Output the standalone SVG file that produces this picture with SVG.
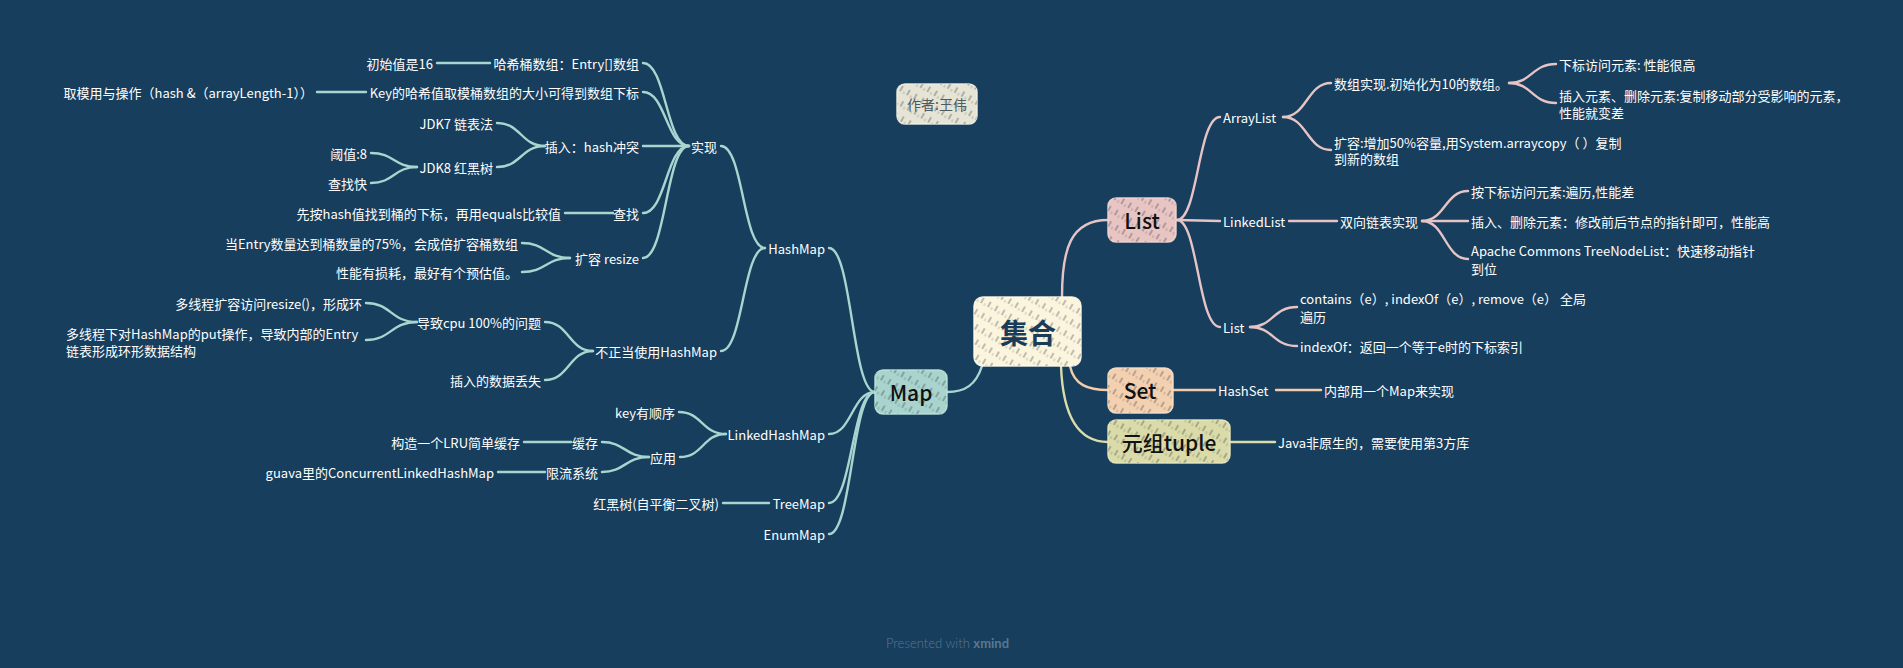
<svg xmlns="http://www.w3.org/2000/svg" width="1903" height="668" viewBox="0 0 1903 668">
<defs>
<pattern id="hatch" patternUnits="userSpaceOnUse" width="8" height="13" patternTransform="rotate(30)">
<line x1="1" y1="0" x2="1" y2="13" stroke="#15222e" stroke-opacity="0.6" stroke-width="0.9" stroke-dasharray="6 7"/>
<line x1="5" y1="4" x2="5" y2="13" stroke="#15222e" stroke-opacity="0.35" stroke-width="0.7" stroke-dasharray="3 10"/>
</pattern>
<style>
.t{font-family:"Noto Sans CJK SC","Noto Sans",sans-serif;font-size:13px;fill:#ffffff;dominant-baseline:central}
.e{text-anchor:end}
.n{font-family:"Noto Sans CJK SC","Noto Sans",sans-serif;font-size:21px;font-weight:500;fill:#111;text-anchor:middle;dominant-baseline:central}
.c{fill:none;stroke-width:2.4;stroke-linecap:round}
.m{stroke:#a6d6cf}
.l{stroke:#e6c4c6}
.s{stroke:#f1cdae}
.u{stroke:#dadda9}
.box{stroke-width:1.5;stroke-opacity:0.9}
.h{fill:url(#hatch)}
</style>
</defs>
<rect width="1903" height="668" fill="#173e5c"/>

<g id="connectors">
<path class="c m" d="M982 366 C976 385 965 392 947 392"/>
<path class="c l" d="M1062 297 C1062 250 1070 220 1108 220"/>
<path class="c s" d="M1070 366 C1074 385 1088 390 1108 390"/>
<path class="c u" d="M1061 366 C1063 420 1080 442 1108 442"/>
<path class="c m" d="M875 392 C852 392 852 248 829 248"/>
<path class="c m" d="M875 392 C852 392 852 434 829 434"/>
<path class="c m" d="M875 392 C852 392 852 503 829 503"/>
<path class="c m" d="M875 392 C852 392 852 534 829 534"/>
<path class="c m" d="M765 248 C743 248 743 146 721 146"/>
<path class="c m" d="M765 248 C743 248 743 351 721 351"/>
<path class="c m" d="M689 146 C666 146 666 63 643 63"/>
<path class="c m" d="M689 146 C666 146 666 92 643 92"/>
<path class="c m" d="M689 146 L643 146"/>
<path class="c m" d="M689 146 C666 146 666 213 643 213"/>
<path class="c m" d="M689 146 C666 146 666 258 643 258"/>
<path class="c m" d="M490 63 L437 63"/>
<path class="c m" d="M366 92 L317 92"/>
<path class="c m" d="M545 146 C521 146 521 123 497 123"/>
<path class="c m" d="M545 146 C521 146 521 167 497 167"/>
<path class="c m" d="M417 167 C394 167 394 153 371 153"/>
<path class="c m" d="M417 167 C394 167 394 183 371 183"/>
<path class="c m" d="M613 213 L565 213"/>
<path class="c m" d="M570 258 C546 258 546 243 522 243"/>
<path class="c m" d="M570 258 C546 258 546 272 522 272"/>
<path class="c m" d="M593 351 C569 351 569 322 545 322"/>
<path class="c m" d="M593 351 C569 351 569 380 545 380"/>
<path class="c m" d="M417 322 C391 322 391 303 366 303"/>
<path class="c m" d="M417 322 C391 322 391 340 366 340"/>
<path class="c m" d="M726 434 C702 434 702 412 679 412"/>
<path class="c m" d="M726 434 C703 434 703 457 680 457"/>
<path class="c m" d="M649 457 C625 457 625 442 602 442"/>
<path class="c m" d="M649 457 C625 457 625 472 602 472"/>
<path class="c m" d="M571 442 L524 442"/>
<path class="c m" d="M545 472 L498 472"/>
<path class="c m" d="M769 503 L723 503"/>
<path class="c l" d="M1177 220 C1198 220 1198 117 1220 117"/>
<path class="c l" d="M1177 220 L1220 221"/>
<path class="c l" d="M1177 220 C1198 220 1198 327 1220 327"/>
<path class="c l" d="M1283 117 C1307 117 1307 83 1331 83"/>
<path class="c l" d="M1283 117 C1307 117 1307 150 1331 150"/>
<path class="c l" d="M1509 83 C1532 83 1532 64 1556 64"/>
<path class="c l" d="M1509 83 C1532 83 1532 103 1556 103"/>
<path class="c l" d="M1289 221 L1337 221"/>
<path class="c l" d="M1422 221 C1445 221 1445 191 1468 191"/>
<path class="c l" d="M1422 221 L1468 221"/>
<path class="c l" d="M1422 221 C1445 221 1445 259 1468 259"/>
<path class="c l" d="M1250 327 C1273 327 1273 307 1297 307"/>
<path class="c l" d="M1250 327 C1273 327 1273 346 1297 346"/>
<path class="c s" d="M1174 390 L1215 390"/>
<path class="c s" d="M1276 390 L1321 390"/>
<path class="c u" d="M1231 442 L1275 442"/>
</g>

<g id="root">
<rect class="box" x="974" y="297" width="107" height="69" rx="9" fill="#fbf5de" stroke="#fffaea"/>
<rect class="h" x="974" y="297" width="107" height="69" rx="9"/>
<text x="1028" y="332" font-family="'Noto Sans CJK SC',sans-serif" font-size="28" font-weight="700" fill="#1b3c59" text-anchor="middle" dominant-baseline="central">集合</text>
</g>
<g id="author">
<rect class="box" x="897" y="84" width="80" height="40" rx="8" fill="#e6e4d4" stroke="#f2f0e4"/>
<rect class="h" x="897" y="84" width="80" height="40" rx="8"/>
<text x="937" y="104" font-family="'Noto Sans CJK SC',sans-serif" font-size="14" fill="#4f5a63" text-anchor="middle" dominant-baseline="central">作者:王伟</text>
</g>
<g id="node-list">
<rect class="box" x="1108" y="198" width="68" height="44" rx="8" fill="#e8c5c3" stroke="#f3d6d4"/>
<rect class="h" x="1108" y="198" width="68" height="44" rx="8"/>
<text class="n" x="1142" y="220">List</text>
</g>
<g id="node-map">
<rect class="box" x="875" y="370" width="72" height="44" rx="8" fill="#a8d4cd" stroke="#bfe2dc"/>
<rect class="h" x="875" y="370" width="72" height="44" rx="8"/>
<text class="n" x="911" y="392">Map</text>
</g>
<g id="node-set">
<rect class="box" x="1108" y="368" width="65" height="45" rx="8" fill="#f3d0b0" stroke="#f9e0c8"/>
<rect class="h" x="1108" y="368" width="65" height="45" rx="8"/>
<text class="n" x="1140" y="390">Set</text>
</g>
<g id="node-tuple">
<rect class="box" x="1108" y="420" width="122" height="43" rx="8" fill="#dadba8" stroke="#e8e9c0"/>
<rect class="h" x="1108" y="420" width="122" height="43" rx="8"/>
<text class="n" x="1169" y="442">元组tuple</text>
</g>

<g id="hashmap-branch">
<text class="t e" x="433" y="63">初始值是16</text>
<text class="t e" x="639" y="63">哈希桶数组：Entry[]数组</text>
<text class="t e" x="313" y="92">取模用与操作（hash &amp;（arrayLength-1））</text>
<text class="t e" x="639" y="92">Key的哈希值取模桶数组的大小可得到数组下标</text>
<text class="t e" x="493" y="123">JDK7 链表法</text>
<text class="t e" x="639" y="146">插入：hash冲突</text>
<text class="t e" x="717" y="146">实现</text>
<text class="t e" x="367" y="153">阈值:8</text>
<text class="t e" x="493" y="167">JDK8 红黑树</text>
<text class="t e" x="367" y="183">查找快</text>
<text class="t e" x="561" y="213">先按hash值找到桶的下标，再用equals比较值</text>
<text class="t e" x="639" y="213">查找</text>
<text class="t e" x="518" y="243">当Entry数量达到桶数量的75%，会成倍扩容桶数组</text>
<text class="t e" x="639" y="258">扩容 resize</text>
<text class="t e" x="518" y="272">性能有损耗，最好有个预估值。</text>
<text class="t e" x="825" y="248">HashMap</text>
<text class="t e" x="362" y="303">多线程扩容访问resize()，形成环</text>
<text class="t e" x="541" y="322">导致cpu 100%的问题</text>
<text class="t" x="66" y="333">多线程下对HashMap的put操作，导致内部的Entry</text>
<text class="t" x="66" y="350">链表形成环形数据结构</text>
<text class="t e" x="717" y="351">不正当使用HashMap</text>
<text class="t e" x="541" y="380">插入的数据丢失</text>
</g>
<g id="other-map-branch">
<text class="t e" x="675" y="412">key有顺序</text>
<text class="t e" x="825" y="434">LinkedHashMap</text>
<text class="t e" x="520" y="442">构造一个LRU简单缓存</text>
<text class="t e" x="598" y="442">缓存</text>
<text class="t e" x="676" y="457">应用</text>
<text class="t e" x="494" y="472">guava里的ConcurrentLinkedHashMap</text>
<text class="t e" x="598" y="472">限流系统</text>
<text class="t e" x="719" y="503">红黑树(自平衡二叉树)</text>
<text class="t e" x="825" y="503">TreeMap</text>
<text class="t e" x="825" y="534">EnumMap</text>
</g>
<g id="list-branch">
<text class="t" x="1223" y="117">ArrayList</text>
<text class="t" x="1334" y="83">数组实现.初始化为10的数组。</text>
<text class="t" x="1559" y="64">下标访问元素: 性能很高</text>
<text class="t" x="1559" y="95">插入元素、删除元素:复制移动部分受影响的元素，</text>
<text class="t" x="1559" y="112">性能就变差</text>
<text class="t" x="1334" y="142">扩容:增加50%容量,用System.arraycopy（ ）复制</text>
<text class="t" x="1334" y="158">到新的数组</text>
<text class="t" x="1223" y="221">LinkedList</text>
<text class="t" x="1340" y="221">双向链表实现</text>
<text class="t" x="1471" y="191">按下标访问元素:遍历,性能差</text>
<text class="t" x="1471" y="221">插入、删除元素：修改前后节点的指针即可，性能高</text>
<text class="t" x="1471" y="250">Apache Commons TreeNodeList：快速移动指针</text>
<text class="t" x="1471" y="268">到位</text>
<text class="t" x="1223" y="327">List</text>
<text class="t" x="1300" y="298">contains（e）, indexOf（e）, remove（e） 全局</text>
<text class="t" x="1300" y="316">遍历</text>
<text class="t" x="1300" y="346">indexOf：返回一个等于e时的下标索引</text>
</g>
<g id="set-branch">
<text class="t" x="1218" y="390">HashSet</text>
<text class="t" x="1324" y="390">内部用一个Map来实现</text>
</g>
<g id="tuple-branch">
<text class="t" x="1278" y="442">Java非原生的，需要使用第3方库</text>
</g>
<text x="886" y="643" font-family="Lato,'Open Sans',sans-serif" font-size="13" font-weight="300" fill="#5a7790" dominant-baseline="central">Presented with <tspan font-weight="700">xmind</tspan></text>
</svg>
